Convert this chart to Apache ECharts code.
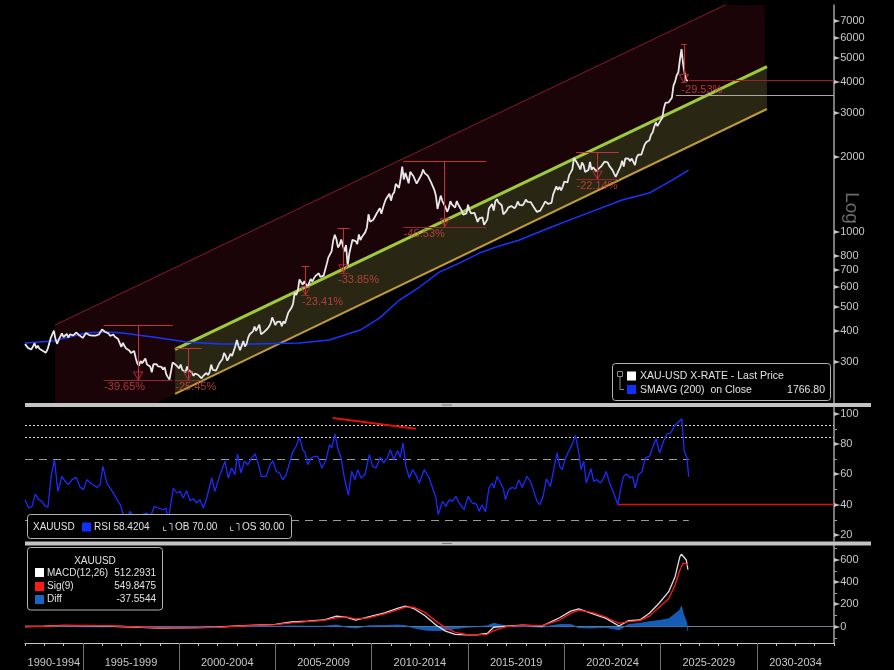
<!DOCTYPE html>
<html>
<head>
<meta charset="utf-8">
<script src="https://cdn.jsdelivr.net/npm/echarts@6/dist/echarts.min.js"></script>
<style>
html, body { margin: 0; padding: 0; background: #000; }
#chart { width: 894px; height: 670px; }
</style>
</head>
<body>
<div id="chart"></div>
<script>
// XAU-USD monthly, log price panel + RSI + MACD
const FONT = "'Liberation Sans', Arial, sans-serif";
const startYear = 1992; // month index 0 = Jan 1992

// monthly closes, Jan 1992 .. Jun 2026
const goldClose = [
  354, 353, 341, 337, 337, 343, 357, 341, 349, 339, 334, 333,
  330, 327, 337, 354, 374, 378, 401, 371, 355, 369, 370, 391,
  378, 381, 389, 376, 387, 386, 384, 385, 394, 389, 383, 383,
  375, 376, 392, 389, 385, 387, 383, 383, 383, 383, 387, 387,
  405, 400, 396, 392, 391, 382, 385, 387, 379, 379, 371, 369,
  345, 358, 348, 340, 345, 334, 326, 325, 332, 311, 296, 290,
  303, 297, 301, 310, 293, 296, 288, 273, 294, 292, 294, 288,
  287, 287, 280, 286, 268, 261, 255, 255, 299, 299, 292, 290,
  283, 293, 279, 276, 273, 288, 277, 278, 273, 264, 270, 272,
  266, 267, 258, 264, 266, 271, 266, 273, 293, 279, 275, 277,
  282, 296, 302, 308, 326, 318, 304, 312, 324, 317, 318, 347,
  368, 348, 335, 339, 364, 346, 354, 375, 388, 386, 398, 416,
  400, 397, 424, 388, 394, 396, 391, 408, 416, 428, 453, 438,
  422, 435, 428, 436, 418, 437, 429, 433, 473, 470, 495, 513,
  569, 557, 582, 644, 653, 613, 633, 623, 599, 604, 646, 632,
  650, 665, 662, 681, 659, 650, 666, 673, 743, 789, 783, 834,
  923, 972, 933, 865, 886, 930, 918, 833, 884, 730, 815, 870,
  928, 943, 917, 891, 975, 926, 955, 955, 996, 1040, 1175, 1097,
  1081, 1117, 1115, 1180, 1212, 1244, 1181, 1247, 1307, 1357, 1386, 1421,
  1332, 1409, 1439, 1556, 1536, 1500, 1628, 1826, 1620, 1722, 1746, 1564,
  1738, 1711, 1669, 1664, 1558, 1604, 1614, 1692, 1776, 1719, 1712, 1675,
  1663, 1578, 1595, 1472, 1393, 1234, 1314, 1396, 1327, 1323, 1253, 1202,
  1244, 1326, 1284, 1296, 1250, 1327, 1282, 1287, 1216, 1171, 1183, 1184,
  1283, 1213, 1184, 1183, 1190, 1172, 1095, 1132, 1115, 1142, 1065, 1061,
  1118, 1238, 1233, 1292, 1215, 1322, 1351, 1309, 1316, 1277, 1173, 1152,
  1211, 1249, 1249, 1268, 1268, 1242, 1269, 1322, 1280, 1271, 1275, 1303,
  1345, 1318, 1325, 1315, 1299, 1253, 1224, 1201, 1192, 1215, 1222, 1282,
  1321, 1313, 1292, 1283, 1305, 1409, 1413, 1520, 1472, 1513, 1464, 1517,
  1589, 1585, 1577, 1687, 1730, 1781, 1975, 1968, 1886, 1879, 1777, 1898,
  1847, 1734, 1708, 1769, 1907, 1770, 1814, 1813, 1743, 1783, 1774, 1829,
  1796, 1909, 1937, 1897, 1837, 1807, 1766, 1711, 1661, 1633, 1769, 1824,
  1928, 1827, 1969, 1990, 1963, 1919, 1965, 1940, 1849, 1983, 2036, 2063,
  2040, 2044, 2230, 2286, 2327, 2326, 2448, 2503, 2634, 2744, 2653, 2625,
  2798, 2858, 3124, 3289, 3289, 3303, 3290, 3448, 3858, 4000, 4240, 4350,
  4900, 5400, 4700, 4300, 4050, 4036
];

// SMAVG(200)
const smaYears = [1992.0, 1993.46, 1995.22, 1996.26, 1996.93, 1998.64, 2000.4, 2002.11, 2003.82, 2006.25,
  2007.8, 2009.4, 2010.4, 2011.44, 2012.48, 2013.51, 2014.55, 2015.59, 2016.63, 2017.67,
  2019.2, 2020.8, 2023.0, 2024.4, 2025.6, 2026.45];
const smaValues = [358, 364, 393, 396, 393, 378, 361, 354, 354, 358,
  368, 403, 450, 532, 600, 688, 748, 821, 877, 926,
  1035, 1155, 1340, 1429, 1611, 1767];

// RSI readings (month index, value)
const rsiMonths = [0, 2.3, 4.4, 6.4, 8.5, 10.5, 12.6, 14.3, 16.4, 18.4, 20.5, 23, 25, 27.1, 29.2, 31.9, 34.4, 36.5, 38.5, 41.6,
  44.8, 46.8, 48.5, 51, 53.7, 56.2, 59.3, 61.3, 63.4, 65.5, 68.6, 72.7, 75.9, 77.9, 80.6, 83.1, 86.2, 87.7, 89.3, 92.4,
  94.5, 96.6, 98.6, 100.7, 102.8, 104.9, 106.9, 109, 111.1, 113.2, 116.3, 118.3, 121.5, 124.6, 126.6, 128.7, 130.8, 132.4, 134.5, 136.6,
  138.9, 141, 143.4, 145.5, 147.2, 150.3, 152.3, 154.4, 156.5, 158.6, 160.6, 162.7, 164.8, 166.9, 168.9, 171, 173.1, 174.5, 176.2, 178.3,
  180.3, 182.4, 184.9, 187.6, 189.7, 191.1, 193.2, 194.8, 196.9, 199, 201.5, 203.5, 205.6, 207.3, 209.3, 211.8, 214.5, 216.6, 218.7, 221.4,
  223.4, 225.9, 227.6, 229.7, 232.1, 233.8, 235.5, 237.3, 239.4, 241.5, 243.5, 245.6, 248.7, 251.8, 253.9, 256, 257.4, 260.1, 262.2, 264.3,
  266.3, 268.4, 270.5, 273.6, 276, 278.6, 281.3, 282.8, 284.8, 286.9, 289, 291.1, 292.1, 294.2, 296.2, 297.9, 299.3, 301.4, 303.5, 305.6,
  307.6, 309.7, 312.8, 315.3, 317, 319, 320.7, 322.8, 324.8, 327.3, 329.8, 331.5, 333.1, 334.6, 336.6, 338.7, 340.8, 342.9, 344.9, 346.4,
  348.1, 349.7, 352.6, 354.3, 356.3, 358.4, 360.5, 362.1, 364.2, 366.7, 369.4, 371.2, 372.9, 375, 377, 378.5, 380.2, 382.2, 384.3, 386.4,
  389.1, 391.6, 393.2, 395.3, 397.8, 399.9, 402.3, 404.4, 407.1, 409.2, 410.6, 412.3, 413.5];
const rsiValues = [43.3, 37.8, 38.9, 47, 43.3, 42.2, 39, 38.3, 59.8, 69.3, 48.8, 58.7, 55.4, 53.2, 56.5, 58, 51.4, 49.9, 56.5, 53.6,
  51.4, 53.2, 65.3, 54.3, 49.9, 45.5, 40, 33.4, 30, 35.6, 30, 33.4, 34.5, 31.2, 38.9, 37.8, 36.7, 37.8, 30, 51,
  47.7, 48.8, 44.4, 49.2, 42.6, 43.9, 41.1, 43.3, 37.8, 44.4, 57.6, 48.8, 59.8, 68.6, 57.6, 64.2, 59.8, 73.4, 60.9, 68.6,
  66.4, 70.5, 73.4, 66.4, 58.7, 58.7, 65.3, 69, 62, 60.9, 56.5, 59.8, 67.5, 75.2, 78.5, 84.4, 76.3, 74.1, 66.4, 70.8,
  71.9, 71.9, 64.2, 69.7, 79.6, 77.4, 86.6, 77.4, 70.8, 57.6, 46.2, 62, 56.5, 63.1, 57.6, 59.8, 73, 65.3, 64.2, 71.2,
  67.5, 71.2, 76.3, 69.7, 75.6, 71.2, 80.7, 65.3, 57.6, 63.1, 59.8, 54.3, 63.1, 57.6, 51, 44.4, 33.4, 42.2, 38.9, 43.3,
  42.2, 45.5, 41.1, 36.7, 45.5, 41.1, 40.4, 35.6, 40, 35.2, 51, 54.3, 51, 58.7, 54.3, 51, 43.3, 49.9, 51.4, 50.5,
  56.5, 51.4, 58.7, 54.3, 48.8, 42.2, 40, 45.5, 57.1, 52.1, 65.3, 74.1, 65.3, 63.1, 70.3, 75.2, 79.6, 85.7, 75.2, 63.1,
  68.6, 54.3, 63.7, 55.4, 56.5, 54.3, 57.6, 62, 54.3, 47.7, 40, 51, 58.7, 60.2, 57.6, 58.7, 51, 59.8, 61.5, 70.8,
  71.9, 79.6, 83.5, 74.1, 81.8, 86.6, 87.3, 91.7, 94.5, 96.7, 75.6, 71.2, 58.4];

// MACD readings (month index)
const macdMonths = [0, 12, 24, 36, 48, 60, 72, 84, 96, 108, 120, 132, 144, 156, 166, 176, 186, 194, 200, 206,
  214, 224, 232, 237, 242, 249, 256, 262, 268, 275, 282, 288, 292, 300, 310, 322, 333, 340, 345, 353,
  362, 370, 376, 383, 389, 395, 401, 405, 408, 409, 410, 412, 413];
const macdValues = [2, 6, 12, 10, 8, 2, -6, -12, -10, -8, -4, 8, 15, 20, 42, 50, 60, 95, 85, 58,
  88, 125, 165, 185, 165, 100, 15, -40, -68, -74, -72, -60, -5, 5, 15, 5, 80, 140, 160, 120,
  75, 6, 54, 60, 120, 210, 314, 449, 628, 650, 660, 598, 512];
const signalValues = [2, 4, 10, 11, 9, 4, -3, -10, -11, -9, -6, 4, 12, 18, 35, 46, 56, 80, 88, 70,
  80, 115, 150, 175, 175, 130, 50, -10, -50, -70, -72, -68, -35, 0, 12, 10, 60, 120, 148, 128,
  85, 30, 45, 55, 95, 174, 251, 374, 509, 540, 569, 565, 550];
const diffValues = [0, 2, 3, -1, -1, -2, -3, -2, 1, 1, 2, 4, 3, 2, 7, 4, 4, 15, -3, -12,
  8, 10, 15, 10, -10, -30, -35, -30, -18, -4, 0, 8, 30, 5, 3, -5, 20, 20, -9, -12,
  -6, -28, 20, 30, 45, 55, 70, 115, 150, 185, 120, 45, -38];

// drawdown annotations: peak month .. trough month, peak / trough price
const ddStart = [49, 93.3, 172.3, 194.7, 235.7, 343.3, 408.6];
const ddEnd = [92, 110, 177.2, 202.1, 287.3, 370, 412.3];
const ddPeak = [421.3, 341.6, 728.7, 1034.6, 1921, 2088, 5630];
const ddTrough = [254.2, 254.7, 558.1, 684.4, 1046.4, 1625.7, 3967];
const ddLabel = ['-39.65%', '-25.45%', '-23.41%', '-33.85%', '-45.53%', '-22.14%', '-29.53%'];

// trend channels (year, price)
const redZoneX = [1993.56, 2030.4];
const redZoneTop = [422.5, 9667];
const redZoneBottom = [131, 3074];
const yellowX = [1999.79, 2030.52];
const yellowTop = [337.2, 4592];
const yellowBottom = [223.4, 3106];

const lastPrice = 4036, lastPriceFrom = 2026.46;
const levelPrice = 3515, levelFrom = 2025.79;

const rsiDashed = [70, 30];
const rsiDotted = [92.3, 84.4];
const rsiSupport = 40.1, rsiSupportFrom = 2022.78;
const rsiTrendX = [2007.97, 2012.3];
const rsiTrendY = [97.2, 90.1];
const dataEnd = 2026.46;

const priceTicks = [300, 400, 500, 600, 700, 800, 1000, 2000, 3000, 4000, 5000, 6000, 7000];
const rsiTicks = [20, 40, 60, 80, 100];
const rsiMinor = [30, 50, 70, 90];
const macdTicks = [0, 200, 400, 600];
const macdMinor = [-100, 100, 300, 500, 700];
const yearTicks = [1992, 1993, 1994, 1995, 1996, 1997, 1998, 1999, 2000, 2001, 2002, 2003, 2004, 2005, 2006, 2007,
  2008, 2009, 2010, 2011, 2012, 2013, 2014, 2015, 2016, 2017, 2018, 2019, 2020, 2021, 2022, 2023, 2024, 2025,
  2026, 2027, 2028, 2029, 2030, 2031, 2032, 2033, 2034];
const periodBreaks = [1995, 2000, 2005, 2010, 2015, 2020, 2025, 2030];
const periodCentres = [1993.5, 1997.5, 2002.5, 2007.5, 2012.5, 2017.5, 2022.5, 2027.5, 2032];
const periodLabels = ['1990-1994', '1995-1999', '2000-2004', '2005-2009', '2010-2014', '2015-2019', '2020-2024', '2025-2029', '2030-2034'];

const smaLast = '1766.80';
const rsiLast = '58.4204';
const macdNames = ['MACD(12,26)', 'Sig(9)', 'Diff'];
const macdLast = ['512.2931', '549.8475', '-37.5544'];

const L = v => Math.log10(v);
const mYear = m => startYear + m / 12;

const chart = echarts.init(document.getElementById('chart'));

function quad(fill) {
    return function (params, api) {
        const cs = params.coordSys;
        const pts = [
            api.coord([api.value(0), api.value(2)]),
            api.coord([api.value(0), api.value(3)]),
            api.coord([api.value(1), api.value(5)]),
            api.coord([api.value(1), api.value(4)])
        ];
        return {
            type: 'polygon',
            shape: { points: pts },
            style: { fill: fill },
            clipPath: { type: 'rect', shape: { x: cs.x, y: cs.y, width: cs.width, height: cs.height } }
        };
    };
}

function seg(x1, y1, x2, y2, style) {
    const d = { coords: [[x1, y1], [x2, y2]] };
    if (style) d.lineStyle = style;
    return d;
}

const ddRed = '#c2323c';
const ddSegs = [];
ddStart.forEach((s, i) => {
    const x1 = mYear(s), x2 = mYear(ddEnd[i]), xm = (x1 + x2) / 2;
    ddSegs.push(seg(x1, L(ddPeak[i]), x2, L(ddPeak[i])));
    ddSegs.push(seg(x1, L(ddTrough[i]), x2, L(ddTrough[i]), { color: '#8e2a30' }));
    ddSegs.push(seg(xm, L(ddPeak[i]), xm, L(ddTrough[i])));
});
ddSegs.push(seg(lastPriceFrom, L(lastPrice), 2034, L(lastPrice), { color: '#a01c26' }));
ddSegs.push(seg(levelFrom, L(levelPrice), 2034, L(levelPrice), { color: '#a8a8a8' }));

const rsiSegs = [];
rsiDotted.forEach(v => rsiSegs.push(seg(1992, v, 2034, v, { color: '#d8d8d8', type: [2, 2], width: 1 })));
rsiDashed.forEach(v => rsiSegs.push(seg(1992, v, dataEnd, v, { color: '#9a9a9a', type: [8, 6], width: 1.2 })));
rsiSegs.push(seg(rsiSupportFrom, rsiSupport, 2034, rsiSupport, { color: '#e01010', width: 1.3 }));
rsiSegs.push(seg(rsiTrendX[0], rsiTrendY[0], rsiTrendX[1], rsiTrendY[1], { color: '#e01010', width: 2 }));

const tri = '{t|►}';
const labelBase = { color: '#c8c8c8', fontSize: 11, fontFamily: FONT, margin: 0, rich: { t: { fontSize: 8, color: '#c8c8c8', fontFamily: 'DejaVu Sans' } } };
const yLine = { show: true, lineStyle: { color: '#a0a0a0', width: 1.5 } };
const legendFont = '10px ' + FONT;

const option = {
    backgroundColor: '#000',
    animation: false,
    textStyle: { fontFamily: FONT },
    grid: [
        { left: 25, right: 60, top: 5, height: 398 },
        { left: 25, right: 60, top: 407, height: 134 },
        { left: 25, right: 60, top: 545.5, height: 97.5 }
    ],
    xAxis: [
        { type: 'value', gridIndex: 0, min: 1992, max: 2034, show: false },
        { type: 'value', gridIndex: 1, min: 1992, max: 2034, show: false },
        {
            type: 'value', gridIndex: 2, position: 'bottom', min: 1992, max: 2034,
            axisLine: { show: true, onZero: false, lineStyle: { color: '#c8c8c8' } },
            axisTick: { show: true, customValues: yearTicks, length: 3, lineStyle: { color: '#c8c8c8' } },
            axisLabel: { show: false }, splitLine: { show: false }
        },
        {
            type: 'value', gridIndex: 2, position: 'bottom', offset: 0, min: 1992, max: 2034,
            axisLine: { show: false, onZero: false },
            axisTick: { show: true, customValues: periodBreaks, length: 27, lineStyle: { color: '#707070' } },
            axisLabel: {
                show: true, customValues: periodCentres, margin: 14, color: '#c8c8c8', fontSize: 11, fontFamily: FONT,
                formatter: v => periodLabels[periodCentres.findIndex(c => Math.abs(c - v) < 0.01)]
            },
            splitLine: { show: false }
        }
    ],
    yAxis: [
        {
            type: 'value', gridIndex: 0, position: 'right', min: 2.3128, max: 3.9095,
            axisLine: yLine, axisTick: { show: false }, splitLine: { show: false },
            axisLabel: Object.assign({}, labelBase, {
                customValues: priceTicks.map(L),
                formatter: v => tri + Math.round(Math.pow(10, v))
            })
        },
        {
            type: 'value', gridIndex: 1, position: 'right', min: 16.04, max: 104.42,
            axisLine: yLine, splitLine: { show: false },
            axisTick: { show: true, customValues: rsiMinor, length: 3, lineStyle: { color: '#a0a0a0' } },
            axisLabel: Object.assign({}, labelBase, { customValues: rsiTicks, formatter: v => tri + v })
        },
        {
            type: 'value', gridIndex: 2, position: 'right', min: -146.2, max: 728.3,
            axisLine: yLine, splitLine: { show: false },
            axisTick: { show: true, customValues: macdMinor, length: 3, lineStyle: { color: '#a0a0a0' } },
            axisLabel: Object.assign({}, labelBase, { customValues: macdTicks, formatter: v => tri + v })
        }
    ],
    series: [
        {
            type: 'custom', xAxisIndex: 0, yAxisIndex: 0, silent: true, z: 1,
            renderItem: quad('#1a0408'),
            data: [[redZoneX[0], redZoneX[1], L(redZoneBottom[0]), L(redZoneTop[0]), L(redZoneBottom[1]), L(redZoneTop[1])]]
        },
        {
            type: 'custom', xAxisIndex: 0, yAxisIndex: 0, silent: true, z: 1,
            renderItem: quad('#2a2614'),
            data: [[yellowX[0], yellowX[1], L(yellowBottom[0]), L(yellowTop[0]), L(yellowBottom[1]), L(yellowTop[1])]]
        },
        {
            type: 'line', xAxisIndex: 0, yAxisIndex: 0, symbol: 'none', silent: true, z: 2,
            lineStyle: { color: '#8a1a2a', width: 1 },
            data: [[redZoneX[0], L(redZoneTop[0])], [redZoneX[1], L(redZoneTop[1])]]
        },
        {
            type: 'line', xAxisIndex: 0, yAxisIndex: 0, symbol: 'none', silent: true, z: 2,
            lineStyle: { color: '#9dcb3a', width: 3 },
            data: [[yellowX[0], L(yellowTop[0])], [yellowX[1], L(yellowTop[1])]]
        },
        {
            type: 'line', xAxisIndex: 0, yAxisIndex: 0, symbol: 'none', silent: true, z: 2,
            lineStyle: { color: '#bd9a3a', width: 2 },
            data: [[yellowX[0], L(yellowBottom[0])], [yellowX[1], L(yellowBottom[1])]]
        },
        {
            name: 'SMAVG (200)', type: 'line', xAxisIndex: 0, yAxisIndex: 0, symbol: 'none', z: 3,
            lineStyle: { color: '#1a34ff', width: 1.5 },
            data: smaYears.map((y, i) => [y, L(smaValues[i])])
        },
        {
            name: 'XAU-USD', type: 'line', xAxisIndex: 0, yAxisIndex: 0, symbol: 'none', z: 4,
            lineStyle: { color: '#e8e8e8', width: 1.8 },
            data: goldClose.map((v, i) => [mYear(i), L(v)])
        },
        {
            type: 'lines', coordinateSystem: 'cartesian2d', xAxisIndex: 0, yAxisIndex: 0, silent: true, z: 5,
            lineStyle: { color: ddRed, width: 1, opacity: 1 },
            data: ddSegs
        },
        {
            type: 'scatter', xAxisIndex: 0, yAxisIndex: 0, silent: true, z: 6,
            symbol: 'path://M0,0L10,0L5,9Z', symbolSize: [9, 8], symbolOffset: [0, -4],
            itemStyle: { color: 'rgba(0,0,0,0)', borderColor: ddRed, borderWidth: 1 },
            data: ddStart.map((s, i) => [(mYear(s) + mYear(ddEnd[i])) / 2, L(ddTrough[i])])
        },
        {
            type: 'scatter', xAxisIndex: 0, yAxisIndex: 0, silent: true, z: 6,
            symbolSize: 1, itemStyle: { color: 'rgba(0,0,0,0)' },
            label: { show: true, position: [1, 2], align: 'left', verticalAlign: 'top', color: '#d24646', fontSize: 11, fontFamily: FONT },
            data: ddStart.map((s, i) => ({ value: [mYear(s), L(ddTrough[i])], label: { formatter: ddLabel[i] } }))
        },
        // RSI panel
        {
            type: 'lines', coordinateSystem: 'cartesian2d', xAxisIndex: 1, yAxisIndex: 1, silent: true, z: 2,
            lineStyle: { opacity: 1 },
            data: rsiSegs
        },
        {
            name: 'RSI', type: 'line', xAxisIndex: 1, yAxisIndex: 1, symbol: 'none', z: 3,
            lineStyle: { color: '#1c2cff', width: 1.3 },
            data: rsiMonths.map((m, i) => [mYear(m), rsiValues[i]])
        },
        // MACD panel
        {
            type: 'lines', coordinateSystem: 'cartesian2d', xAxisIndex: 2, yAxisIndex: 2, silent: true, z: 2,
            lineStyle: { color: '#6f7f95', width: 1, opacity: 1 },
            data: [seg(1992, 0, 2034, 0)]
        },
        {
            name: 'Diff', type: 'line', xAxisIndex: 2, yAxisIndex: 2, symbol: 'none', z: 3,
            lineStyle: { color: '#1767c8', width: 0.8 },
            areaStyle: { color: '#1767c8', opacity: 0.9 },
            data: macdMonths.map((m, i) => [mYear(m), diffValues[i]])
        },
        {
            name: 'MACD', type: 'line', xAxisIndex: 2, yAxisIndex: 2, symbol: 'none', z: 4,
            lineStyle: { color: '#e0e0e0', width: 1.3 },
            data: macdMonths.map((m, i) => [mYear(m), macdValues[i]])
        },
        {
            name: 'Sig', type: 'line', xAxisIndex: 2, yAxisIndex: 2, symbol: 'none', z: 5,
            lineStyle: { color: '#ff1a1a', width: 1.3 },
            data: macdMonths.map((m, i) => [mYear(m), signalValues[i]])
        }
    ],
    graphic: [
        // panel separators
        { type: 'rect', z: 50, shape: { x: 25, y: 403, width: 846, height: 4 }, style: { fill: '#c4c4c4' } },
        { type: 'rect', z: 50, shape: { x: 25, y: 541.5, width: 846, height: 4 }, style: { fill: '#c4c4c4' } },
        { type: 'rect', z: 51, shape: { x: 442, y: 404.5, width: 10, height: 1 }, style: { fill: '#777' } },
        { type: 'rect', z: 51, shape: { x: 442, y: 543, width: 10, height: 1 }, style: { fill: '#777' } },
        // Log label
        {
            type: 'text', z: 50, x: 851, y: 208, rotation: -Math.PI / 2,
            style: { text: 'Log', fill: '#6c6c6c', font: '19px ' + FONT, align: 'center', verticalAlign: 'middle' }
        },
        // price legend
        { type: 'rect', z: 60, shape: { x: 612.5, y: 363.5, width: 218, height: 37, r: 3 }, style: { fill: '#000', stroke: '#b4b4b4', lineWidth: 1 } },
        { type: 'rect', z: 61, shape: { x: 617.5, y: 371.5, width: 5, height: 5 }, style: { fill: 'none', stroke: '#8a8a8a', lineWidth: 1 } },
        { type: 'polyline', z: 61, shape: { points: [[620, 376.5], [620, 389.5], [624, 389.5]] }, style: { stroke: '#8a8a8a', lineWidth: 1, fill: 'none' } },
        { type: 'rect', z: 61, shape: { x: 627, y: 371.5, width: 9, height: 9 }, style: { fill: '#ffffff' } },
        { type: 'rect', z: 61, shape: { x: 627, y: 385, width: 9, height: 9 }, style: { fill: '#1030ff' } },
        { type: 'text', z: 61, x: 640, y: 376.5, style: { text: 'XAU-USD X-RATE - Last Price', fill: '#e2e2e2', font: '10.5px ' + FONT, verticalAlign: 'middle' } },
        { type: 'text', z: 61, x: 640, y: 390, style: { text: 'SMAVG (200)  on Close', fill: '#e2e2e2', font: '10.5px ' + FONT, verticalAlign: 'middle' } },
        { type: 'text', z: 61, x: 825, y: 390, style: { text: smaLast, fill: '#e2e2e2', font: '10.5px ' + FONT, align: 'right', verticalAlign: 'middle' } },
        // RSI legend
        { type: 'rect', z: 60, shape: { x: 27.5, y: 514.5, width: 264, height: 24, r: 3 }, style: { fill: '#000', stroke: '#b4b4b4', lineWidth: 1 } },
        { type: 'text', z: 61, x: 33, y: 527, style: { text: 'XAUUSD', fill: '#e2e2e2', font: legendFont, verticalAlign: 'middle' } },
        { type: 'rect', z: 61, shape: { x: 82, y: 522.5, width: 9, height: 9 }, style: { fill: '#1030ff' } },
        { type: 'text', z: 61, x: 94, y: 527, style: { text: 'RSI ' + rsiLast, fill: '#e2e2e2', font: legendFont, verticalAlign: 'middle' } },
        { type: 'polyline', z: 61, shape: { points: [[163.5, 526.5], [163.5, 530.5], [166.5, 530.5]] }, style: { stroke: '#b0b0b0', lineWidth: 1, fill: 'none' } },
        { type: 'polyline', z: 61, shape: { points: [[169, 523.5], [172, 523.5], [172, 530.5]] }, style: { stroke: '#b0b0b0', lineWidth: 1, fill: 'none' } },
        { type: 'text', z: 61, x: 175, y: 527, style: { text: 'OB 70.00', fill: '#e2e2e2', font: legendFont, verticalAlign: 'middle' } },
        { type: 'polyline', z: 61, shape: { points: [[230.5, 526.5], [230.5, 530.5], [233.5, 530.5]] }, style: { stroke: '#b0b0b0', lineWidth: 1, fill: 'none' } },
        { type: 'polyline', z: 61, shape: { points: [[236, 523.5], [239, 523.5], [239, 530.5]] }, style: { stroke: '#b0b0b0', lineWidth: 1, fill: 'none' } },
        { type: 'text', z: 61, x: 242, y: 527, style: { text: 'OS 30.00', fill: '#e2e2e2', font: legendFont, verticalAlign: 'middle' } },
        // MACD legend
        { type: 'rect', z: 60, shape: { x: 27.5, y: 547.5, width: 135, height: 62.5, r: 3 }, style: { fill: '#000', stroke: '#b4b4b4', lineWidth: 1 } },
        { type: 'text', z: 61, x: 95, y: 561, style: { text: 'XAUUSD', fill: '#e2e2e2', font: legendFont, align: 'center', verticalAlign: 'middle' } },
        { type: 'rect', z: 61, shape: { x: 35, y: 568, width: 9, height: 9 }, style: { fill: '#ffffff' } },
        { type: 'rect', z: 61, shape: { x: 35, y: 582, width: 9, height: 9 }, style: { fill: '#ff1a1a' } },
        { type: 'rect', z: 61, shape: { x: 35, y: 595, width: 9, height: 9 }, style: { fill: '#1767c8' } },
        { type: 'text', z: 61, x: 47, y: 573, style: { text: macdNames[0], fill: '#e2e2e2', font: legendFont, verticalAlign: 'middle' } },
        { type: 'text', z: 61, x: 47, y: 586.5, style: { text: macdNames[1], fill: '#e2e2e2', font: legendFont, verticalAlign: 'middle' } },
        { type: 'text', z: 61, x: 47, y: 599.5, style: { text: macdNames[2], fill: '#e2e2e2', font: legendFont, verticalAlign: 'middle' } },
        { type: 'text', z: 61, x: 156, y: 573, style: { text: macdLast[0], fill: '#e2e2e2', font: legendFont, align: 'right', verticalAlign: 'middle' } },
        { type: 'text', z: 61, x: 156, y: 586.5, style: { text: macdLast[1], fill: '#e2e2e2', font: legendFont, align: 'right', verticalAlign: 'middle' } },
        { type: 'text', z: 61, x: 156, y: 599.5, style: { text: macdLast[2], fill: '#e2e2e2', font: legendFont, align: 'right', verticalAlign: 'middle' } }
    ]
};

chart.setOption(option);
</script>
</body>
</html>
